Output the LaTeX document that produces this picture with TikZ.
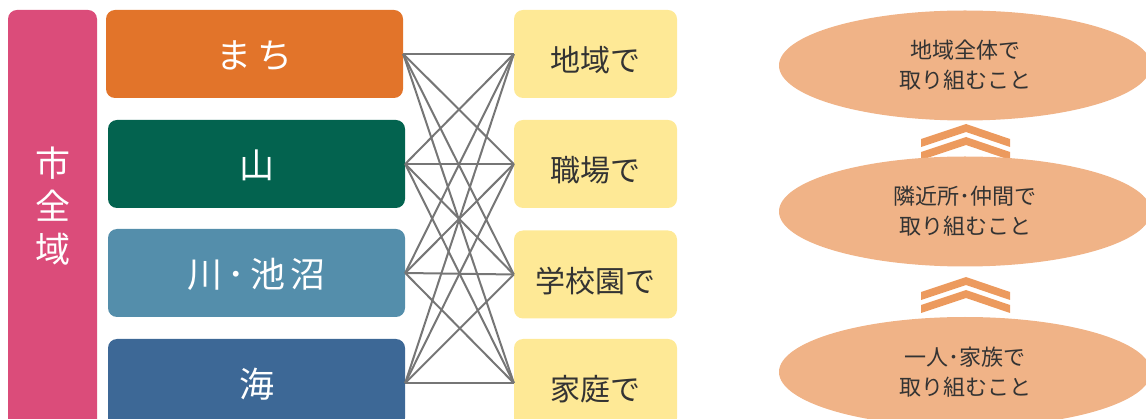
\documentclass[tikz,border=0pt]{standalone}
\usepackage{fontspec}
\setmainfont{Noto Sans CJK JP}
\newfontfamily\widejp[LetterSpace=15]{Noto Sans CJK JP}
\usetikzlibrary{shapes.geometric}
\definecolor{citypink}{HTML}{DB4C7A}
\definecolor{townorange}{HTML}{E2742A}
\definecolor{mountgreen}{HTML}{03634F}
\definecolor{riverblue}{HTML}{548EAB}
\definecolor{seablue}{HTML}{3D6896}
\definecolor{placeyellow}{HTML}{FEE996}
\definecolor{levelorange}{HTML}{F0B387}
\definecolor{chevorange}{HTML}{EC9A5E}
\definecolor{linegray}{HTML}{767676}
\definecolor{textgray}{HTML}{333333}
\begin{document}
\begin{tikzpicture}[x=1pt,y=-1pt]
\tikzstyle{every node}+=[inner sep=0pt]
\tikzstyle{area}=[rectangle, rounded corners=9pt, minimum width=297pt, minimum height=88pt, text=white, text height=32.5pt, text depth=4pt, font=\widejp\fontsize{35}{35}\selectfont]
\tikzstyle{place}=[rectangle, rounded corners=9pt, fill=placeyellow, minimum width=163pt, minimum height=88pt, text=textgray, text height=39.4pt, text depth=3.6pt, font=\fontsize{30}{30}\selectfont]
\tikzstyle{level}=[ellipse, fill=levelorange, minimum width=372pt, minimum height=110pt, text=textgray, align=center, font=\fontsize{22}{30}\selectfont]
\tikzstyle{link}=[draw=linegray, line width=2pt]
\useasboundingbox (0,0) rectangle (1146,419);
\clip (0,0) rectangle (1146,419);
\node [rectangle, rounded corners=9pt, fill=citypink, minimum width=89pt, minimum height=430pt] (city) at (52.5,225) {};
\node [text=white, align=center, font=\fontsize{35}{43}\selectfont] (citytext) at (52.5,206) {市\\全\\域};
\node [area, fill=townorange] (machi) at (254.5,54) {まち};
\node [area, fill=mountgreen] (yama) at (256.5,164) {山};
\node [area, fill=riverblue] (kawa) at (256.5,273) {川･池沼};
\node [area, fill=seablue] (umi) at (256.5,383) {海};
\node [place] (chiiki) at (595.5,54) {地域で};
\node [place] (shokuba) at (595.5,164) {職場で};
\node [place] (gakko) at (595.5,274.5) {学校園で};
\node [place] (katei) at (595.5,383) {家庭で};
\foreach \a in {machi,yama,kawa,umi}
  \foreach \b in {chiiki,shokuba,gakko,katei}
    \draw [link] (\a.east) -- (\b.west);
\foreach \y in {124,137,277,290}
  \fill [chevorange] (921,\y+15) -- (966,\y) -- (1010,\y+15) -- (1010,\y+23) -- (966,\y+8) -- (921,\y+23) -- cycle;
\node [level] (whole) at (965,65.5) {地域全体で\\取り組むこと};
\node [level] (nearby) at (965,211.5) {隣近所･仲間で\\取り組むこと};
\node [level] (family) at (965,372) {一人･家族で\\取り組むこと};
\end{tikzpicture}
\end{document}
